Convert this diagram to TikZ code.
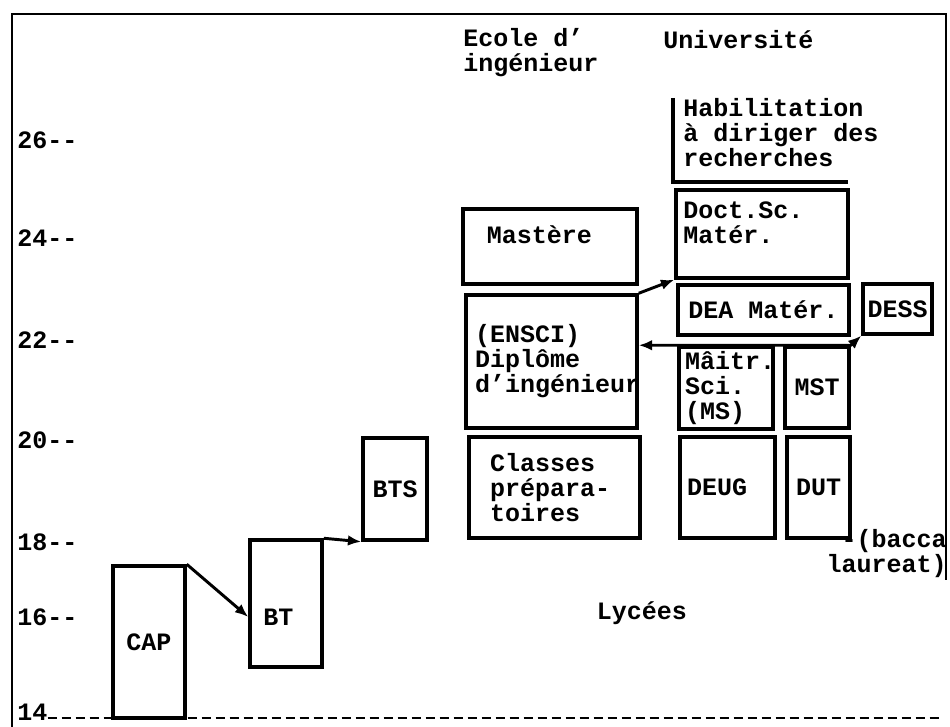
\documentclass[tikz,border=0pt]{standalone}
\usepackage{fontspec}
\setmonofont{Liberation Mono}
\usetikzlibrary{arrows.meta}

\tikzset{
    box/.style={draw, line width=2.6pt, inner sep=0pt, align=center},
    lbl/.style={inner sep=0pt, align=left},
    arr/.style={line width=2.2pt, -{Latex[length=10pt, width=8pt]}},
    frame/.style={line width=1.3pt}
}

\begin{document}
\begin{tikzpicture}[x=0.75pt, y=-0.75pt,
        every node/.style={font=\ttfamily\bfseries\fontsize{18.75pt}{18.75pt}\selectfont}]
        \useasboundingbox (0,0) rectangle (950,727);

        % frame and age scale
        \draw[frame] (12,727) -- (12,14) -- (946,14) -- (946,580);
        \foreach \age/\ypos in {26/140, 24/238, 22/340, 20/440, 18/542, 16/617}
            \node[lbl, anchor=west] (t\age) at (17,\ypos) {\age--};
        \node[lbl, anchor=west] (t14) at (17,712) {14};
        \coordinate (baseend) at (942,718);
        \draw[line width=2.2pt, dash pattern=on 7pt off 3.5pt] (t14.east |- baseend) -- (baseend);

        % headings
        \node[lbl, anchor=west] (ecole) at (463,52.5) {Ecole d’\\ingénieur};
        \node[lbl, anchor=west] (univ) at (663,40) {Université};
        \node[lbl] (lycees) at (642,613) {Lycées};

        % short courses
        \node[box, minimum width=54pt, minimum height=114pt] (cap) at (149,642) {CAP};
        \node[box, minimum width=54pt, minimum height=95.25pt] (bt) at (286,603.5) {};
        \node[lbl, anchor=west] (btlbl) at (263,617) {BT};
        \node[box, minimum width=48pt, minimum height=76.5pt] (bts) at (395,489) {BTS};

        % ecole d'ingenieur
        \node[box, minimum width=128.25pt, minimum height=75.75pt, text width=96.75pt, inner xsep=15.75pt, align=left]
            (prepa) at (554.5,487.5) {Classes\\prépara-\\toires};
        \node[box, minimum width=128.25pt, minimum height=99.75pt, text width=114.75pt, inner xsep=6.75pt, align=left]
            (ensci) at (551.5,361.5) {(ENSCI)\\Diplôme\\d’ingénieur};
        \node[box, minimum width=130.5pt, minimum height=56.25pt] (mastere) at (550,246.5) {};
        \node[lbl] (masterelbl) at (539.5,235) {Mastère};

        % universite
        \node[box, minimum width=71.25pt, minimum height=75.75pt, text width=60.75pt, inner xsep=5.25pt, align=left]
            (deug) at (727.5,487.5) {DEUG};
        \node[box, minimum width=47.25pt, minimum height=75.75pt] (dut) at (818.5,487.5) {DUT};
        \node[box, minimum width=70.5pt, minimum height=61.5pt, text width=61.5pt, inner xsep=4.5pt, align=left]
            (maitr) at (726,388) {Mâitr.\\Sci.\\(MS)};
        \node[box, minimum width=48pt, minimum height=60.75pt] (mst) at (817,387.5) {MST};
        \node[box, minimum width=128.25pt, minimum height=37.5pt] (dea) at (763.5,310) {DEA Matér.};
        \node[box, minimum width=51.75pt, minimum height=37.5pt] (dess) at (897.5,309) {DESS};
        \node[box, minimum width=129pt, minimum height=66pt] (doct) at (762,234) {};
        \node[lbl, anchor=west] (doctlbl) at (683,222.5) {Doct.Sc.\\Matér.};
        \node[lbl, anchor=west] (hab) at (683,132.5) {Habilitation\\à diriger des\\recherches};
        \coordinate (habtop) at (673,98);
        \coordinate (habend) at (848,182);
        \draw[line width=2.6pt] (habtop) |- (habend);
        \node[lbl, anchor=east, align=right] (bac) at (947,553.5) {-(bacca\\laureat)};

        % passages
        \draw[arr] (cap.north east) -- (bt.west |- btlbl.west);
        \draw[arr] (bt.north east) -- (bts.south west);
        \draw[arr] (ensci.north east) -- (doct.south west);
        \draw[arr, {Latex[length=10pt, width=8pt]}-{Latex[length=10pt, width=8pt]}]
            (ensci.east |- mst.north east) -- (mst.north east) -- (dess.south west);
\end{tikzpicture}
\end{document}
